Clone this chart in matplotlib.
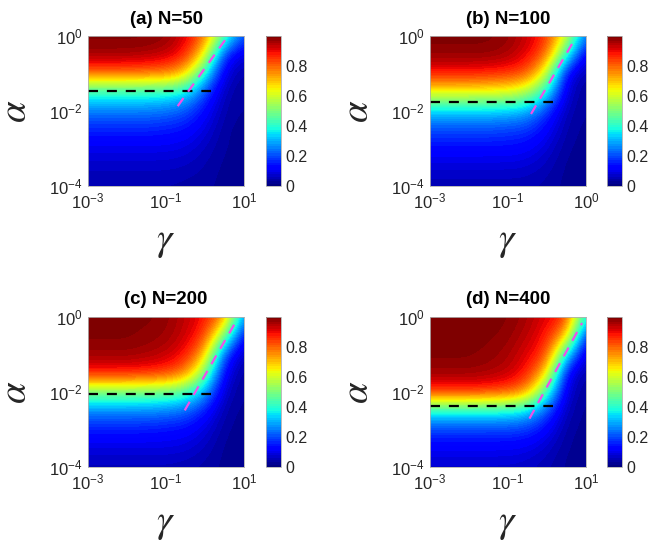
import matplotlib
matplotlib.use("Agg")
import matplotlib.pyplot as plt
import numpy as np

plt.rcParams['font.family'] = ['Liberation Sans', 'DejaVu Sans']

# grid of the heat maps: log10(gamma) columns, log10(alpha) rows (top row = 1e0)
log_gamma = [-3, -2.5, -2, -1.5, -1, -0.5, 0, 0.5, 1]
log_alpha = [0, -0.5, -1, -1.5, -2, -2.5, -3, -3.5, -4]

titles = ['(a) N=50', '(b) N=100', '(c) N=200', '(d) N=400']

P_a = [[0.99, 0.99, 0.99, 0.99, 0.98, 0.92, 0.80, 0.45, 0.20],
       [0.97, 0.97, 0.97, 0.96, 0.94, 0.88, 0.65, 0.15, 0.08],
       [0.80, 0.80, 0.80, 0.79, 0.78, 0.70, 0.38, 0.08, 0.04],
       [0.40, 0.40, 0.40, 0.40, 0.39, 0.36, 0.20, 0.05, 0.03],
       [0.25, 0.25, 0.25, 0.25, 0.24, 0.21, 0.13, 0.04, 0.03],
       [0.16, 0.16, 0.16, 0.16, 0.15, 0.14, 0.09, 0.03, 0.025],
       [0.10, 0.10, 0.10, 0.10, 0.10, 0.09, 0.06, 0.03, 0.025],
       [0.065, 0.065, 0.065, 0.065, 0.065, 0.06, 0.045, 0.025, 0.02],
       [0.045, 0.045, 0.045, 0.045, 0.045, 0.04, 0.035, 0.025, 0.02]]

P_b = [[0.99, 0.99, 0.99, 0.99, 0.98, 0.93, 0.86, 0.62, 0.22],
       [0.98, 0.98, 0.98, 0.98, 0.96, 0.91, 0.80, 0.40, 0.08],
       [0.88, 0.88, 0.88, 0.87, 0.86, 0.82, 0.60, 0.10, 0.04],
       [0.64, 0.64, 0.64, 0.63, 0.62, 0.56, 0.38, 0.07, 0.03],
       [0.33, 0.33, 0.33, 0.33, 0.32, 0.30, 0.18, 0.05, 0.03],
       [0.20, 0.20, 0.20, 0.20, 0.19, 0.18, 0.12, 0.04, 0.025],
       [0.13, 0.13, 0.13, 0.13, 0.13, 0.12, 0.08, 0.03, 0.025],
       [0.08, 0.08, 0.08, 0.08, 0.08, 0.075, 0.055, 0.025, 0.02],
       [0.05, 0.05, 0.05, 0.05, 0.05, 0.05, 0.04, 0.025, 0.02]]

P_c = [[0.99, 0.99, 0.99, 0.99, 0.98, 0.94, 0.89, 0.78, 0.25],
       [0.99, 0.99, 0.99, 0.98, 0.97, 0.93, 0.85, 0.50, 0.10],
       [0.97, 0.97, 0.97, 0.96, 0.94, 0.89, 0.72, 0.18, 0.05],
       [0.88, 0.88, 0.88, 0.87, 0.85, 0.78, 0.50, 0.10, 0.03],
       [0.50, 0.50, 0.50, 0.49, 0.48, 0.44, 0.30, 0.06, 0.03],
       [0.26, 0.26, 0.26, 0.26, 0.25, 0.23, 0.15, 0.04, 0.025],
       [0.15, 0.15, 0.15, 0.15, 0.14, 0.13, 0.09, 0.03, 0.025],
       [0.09, 0.09, 0.09, 0.09, 0.09, 0.085, 0.06, 0.025, 0.02],
       [0.055, 0.055, 0.055, 0.055, 0.055, 0.05, 0.04, 0.025, 0.02]]

P_d = [[0.99, 0.99, 0.99, 0.99, 0.99, 0.96, 0.91, 0.87, 0.35],
       [0.99, 0.99, 0.99, 0.99, 0.98, 0.94, 0.88, 0.72, 0.13],
       [0.99, 0.99, 0.99, 0.98, 0.96, 0.91, 0.85, 0.35, 0.06],
       [0.97, 0.97, 0.97, 0.96, 0.94, 0.88, 0.68, 0.10, 0.04],
       [0.86, 0.86, 0.86, 0.85, 0.83, 0.75, 0.42, 0.07, 0.03],
       [0.38, 0.38, 0.38, 0.38, 0.37, 0.34, 0.21, 0.05, 0.025],
       [0.19, 0.19, 0.19, 0.19, 0.19, 0.18, 0.12, 0.035, 0.025],
       [0.11, 0.11, 0.11, 0.11, 0.11, 0.10, 0.07, 0.03, 0.02],
       [0.07, 0.07, 0.07, 0.07, 0.07, 0.065, 0.05, 0.025, 0.02]]

# black dashed line: alpha_c, drawn from gamma=1e-3 to gamma_end
alpha_c = [0.034, 0.017, 0.0087, 0.0043]
gamma_end = 10 ** 0.15

# magenta dashed line endpoints (gamma, alpha)
mag_gamma = [[10 ** -0.70, 10 ** 0.59], [10 ** -0.41, 10 ** 0.74],
             [10 ** -0.52, 10 ** 0.85], [10 ** -0.45, 10 ** 0.90]]
mag_alpha = [[10 ** -1.87, 1.0], [10 ** -2.08, 10 ** -0.04],
             [10 ** -2.49, 10 ** -0.02], [10 ** -2.71, 10 ** -0.16]]

xticklabels = [['-3', '-1', '1'], ['-3', '-1', '0'],
               ['-3', '-1', '1'], ['-3', '-1', '1']]
yticklabels = ['-4', '-2', '0']
cbticks = [0, 0.2, 0.4, 0.6, 0.8]
cblabels = ['0', '0.2', '0.4', '0.6', '0.8']


def pw(e):
    return r'$\mathregular{10^{' + e + '}}$'


W, H = 648, 548
fig = plt.figure(figsize=(W / 100, H / 100), dpi=100)

# pixel boxes (left, top, right, bottom)
ax_px = [(88, 36, 244, 186), (430, 36, 586, 186),
         (88, 317, 244, 467), (430, 317, 586, 467)]
cb_px = [(266, 281), (607, 622)]

cmap = plt.get_cmap('jet', 64)
txtc = '#262626'
dg = log_gamma[1] - log_gamma[0]
da = log_alpha[0] - log_alpha[1]

for k, P in enumerate([P_a, P_b, P_c, P_d]):
    l, t, r, b = ax_px[k]
    ax = fig.add_axes([l / W, 1 - b / H, (r - l) / W, (b - t) / H])
    im = ax.imshow(np.array(P), origin='upper', cmap=cmap, vmin=0, vmax=1.0,
                   extent=[log_gamma[0] - dg / 2, log_gamma[-1] + dg / 2,
                           log_alpha[-1] - da / 2, log_alpha[0] + da / 2],
                   interpolation='bicubic', interpolation_stage='data',
                   aspect='auto')
    ax.set_xlim(log_gamma[0], log_gamma[-1])
    ax.set_ylim(log_alpha[-1], log_alpha[0])

    ax.plot([log_gamma[0], np.log10(gamma_end)],
            [np.log10(alpha_c[k])] * 2, color='k', lw=1.6,
            linestyle=(0, (4.5, 4)))
    ax.plot(np.log10(mag_gamma[k]), np.log10(mag_alpha[k]), color='#f050e8',
            lw=1.6, linestyle=(0, (4.5, 3.5)))

    ax.set_xticks([-3, -1, 1])
    ax.set_xticklabels([pw(e) for e in xticklabels[k]])
    ax.set_yticks([-4, -2, 0])
    ax.set_yticklabels([pw(e) for e in yticklabels])
    ax.tick_params(length=0, labelsize=12, colors=txtc, pad=4)
    for s in ax.spines.values():
        s.set_color('#b0b0b0')
        s.set_linewidth(0.6)

    ax.set_title(titles[k], fontsize=13.5, fontweight='bold', color='k', pad=9)
    xl = ax.set_xlabel(r'$\gamma$', math_fontfamily='stix', fontsize=28,
                       color=txtc)
    yl = ax.set_ylabel(r'$\alpha$', math_fontfamily='stix', fontsize=28,
                       color=txtc)
    xl.set_verticalalignment('baseline')
    yl.set_verticalalignment('baseline')
    ax.xaxis.set_label_coords(0.5, -0.43)
    ax.yaxis.set_label_coords(-0.40, 0.5)

    cl, cr = cb_px[k % 2]
    cax = fig.add_axes([cl / W, 1 - b / H, (cr - cl) / W, (b - t) / H])
    cb = fig.colorbar(im, cax=cax, ticks=cbticks)
    cb.set_ticklabels(cblabels)
    cb.ax.tick_params(length=0, labelsize=11.5, colors=txtc, pad=3)
    cb.outline.set_edgecolor('#b0b0b0')
    cb.outline.set_linewidth(0.6)

fig.savefig('out.png', dpi=100)
